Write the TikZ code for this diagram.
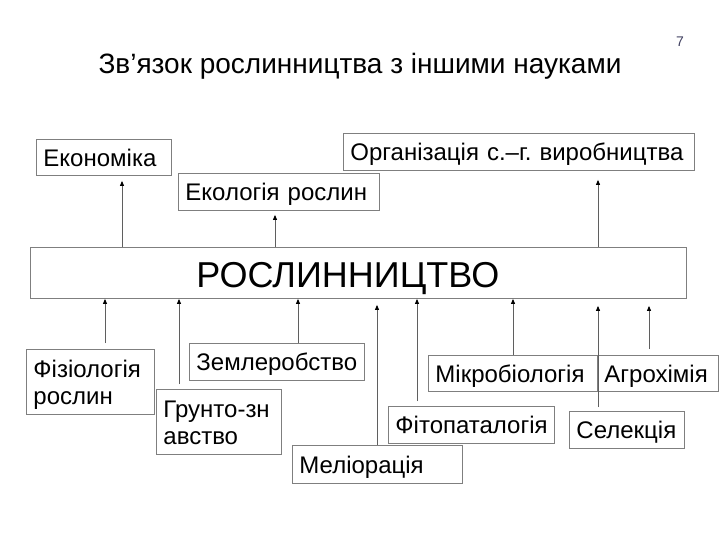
\documentclass[tikz,border=0pt]{standalone}
\usepackage{fontspec}
\setmainfont{Liberation Sans}
\usetikzlibrary{arrows.meta}
\definecolor{rsBorder}{HTML}{7F7F7F}
\definecolor{rsLine}{HTML}{5F5F5F}
\definecolor{rsNum}{HTML}{3F3F5F}
\hyphenpenalty=10000
\frenchspacing

\begin{document}
\begin{tikzpicture}[x=1pt, y=-1pt,
    sci/.style={draw=rsBorder, line width=0.9pt, anchor=north west, align=left,
                inner xsep=7pt, inner ysep=0pt, text height=18pt, text depth=0pt,
                font=\fontsize{24}{27.6}\selectfont},
    twoline/.style={text depth=27.6pt},
    arr/.style={draw=rsLine, line width=0.9pt,
                -{Triangle[length=5pt, width=4pt, color=black]}}]

    \useasboundingbox (0,0) rectangle (720,540);

    \node[anchor=base, font=\fontsize{28}{34}\selectfont] (title) at (360,74) {Зв’язок рослинництва з іншими науками};
    \node[anchor=base, text=rsNum, font=\fontsize{14}{16}\selectfont] (page) at (680,47) {7};

    \node[sci, inner xsep=166pt, text width=324pt, minimum height=51pt, text height=29pt,
          font=\fontsize{36}{42}\selectfont] (main) at (30,247) {РОСЛИННИЦТВО};

    \node[sci, text width=121pt, minimum height=36pt] (ekon)    at (36,139)  {Економіка};
    \node[sci, text width=187pt, minimum height=37pt] (ekol)    at (178,173) {Екологія рослин};
    \node[sci, text width=337pt, minimum height=37pt] (org)     at (343,133) {Організація с.–г. виробництва};
    \node[sci, twoline, text width=114pt, minimum height=65pt] (fiz)   at (26,349)  {Фізіологія\\рослин};
    \node[sci, twoline, text width=111pt, minimum height=65pt] (grunt) at (156,389) {Грунто-зн\\авство};
    \node[sci, text width=161pt, minimum height=37pt] (zeml)    at (189,343) {Землеробство};
    \node[sci, text width=156pt, minimum height=38pt] (melior)  at (292,445) {Меліорація};
    \node[sci, text width=152pt, minimum height=37pt] (fitopat) at (388,406) {Фітопаталогія};
    \node[sci, text width=155pt, minimum height=36pt] (mikro)   at (428,355) {Мікробіологія};
    \node[sci, text width=107pt, minimum height=36pt] (agro)    at (597,355) {Агрохімія};
    \node[sci, text width=101pt, minimum height=37pt] (selek)   at (569,411) {Селекція};

    % upwards
    \draw[arr, shorten >=5pt] (main.north -| 122,0) -- (ekon.south -| 122,0);
    \draw[arr, shorten >=4pt] (main.north -| 275,0) -- (ekol.south -| 275,0);
    \draw[arr, shorten >=9pt] (main.north -| 598,0) -- (org.south -| 598,0);

    % into the main box
    \draw[arr, shorten <=6pt] (fiz.north -| 105,0) -- (main.south -| 105,0);
    \draw[arr, shorten <=5pt] (grunt.north -| 179,0) -- (main.south -| 179,0);
    \draw[arr] (zeml.north -| 298,0) -- (main.south -| 298,0);
    \draw[arr, shorten >=6pt] (melior.north -| 377,0) -- (main.south -| 377,0);
    \draw[arr, shorten <=5pt] (fitopat.north -| 417,0) -- (main.south -| 417,0);
    \draw[arr] (mikro.north -| 513,0) -- (main.south -| 513,0);
    \draw[arr, shorten <=4pt, shorten >=7pt] (selek.north -| 598,0) -- (main.south -| 598,0);
    \draw[arr, shorten <=6pt, shorten >=7pt] (agro.north -| 649,0) -- (main.south -| 649,0);
\end{tikzpicture}
\end{document}
